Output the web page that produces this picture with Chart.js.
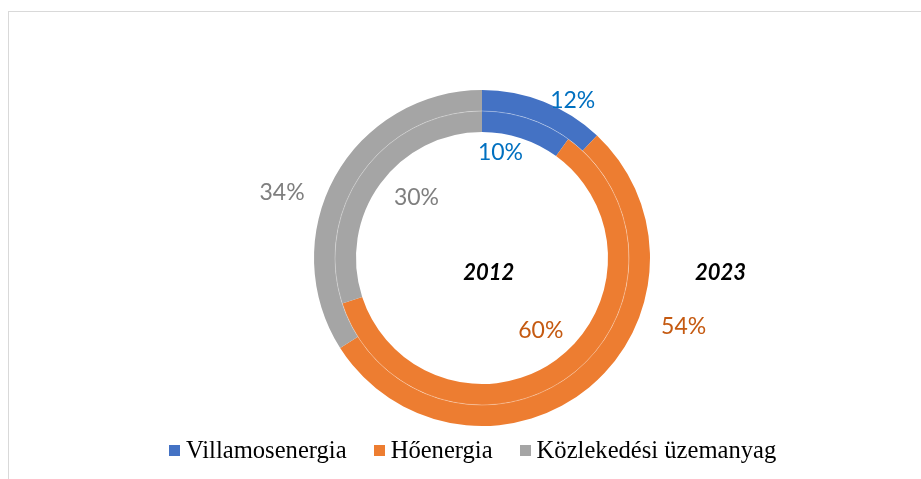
<!DOCTYPE html>
<html>
<head>
<meta charset="utf-8">
<script src="https://cdn.jsdelivr.net/npm/chart.js@4.4.1/dist/chart.umd.min.js"></script>
<style>
  html, body { margin: 0; padding: 0; background: #fff; }
  body { width: 921px; height: 479px; position: relative; overflow: hidden; }
  .frame { position: absolute; left: 8px; top: 11px; width: 920px; height: 480px;
           border-top: 1px solid #d9d9d9; border-left: 1px solid #d9d9d9; }
  .chart-container { position: absolute; left: 0; top: 0; width: 921px; height: 479px; }
  .legend { position: absolute; left: 169px; top: 436px; display: flex; align-items: center;
            font-family: "Liberation Serif", "Times New Roman", serif; font-size: 24.6px; color: #000; }
  .legend span.item { display: flex; align-items: center; margin-right: 27px; }
  .legend span.box { display: inline-block; width: 11px; height: 11px; margin-right: 6px; }
</style>
</head>
<body>
<div class="frame"></div>
<div class="chart-container"></div>
<div class="legend"></div>
<script>
const categories = ['Villamosenergia', 'Hőenergia', 'Közlekedési üzemanyag'];
const years = ['2023', '2012'];
const values2023 = [12, 54, 34];
const values2012 = [10, 60, 30];

const colors = ['#4472c4', '#ed7d31', '#a5a5a5'];
const labelColors = ['#0070c0', '#c55a11', '#7f7f7f'];

// label offsets in units of the outer radius, per ring and slice
const labelSpots = [
    [[0.54, -0.94], [1.20, 0.41], [-1.19, -0.39]],
    [[0.11, -0.63], [0.35, 0.43], [-0.39, -0.36]]
];
const yearSpots = [[1.42, 0.09], [0.04, 0.09]];

const ringLabels = {
    id: 'ringLabels',
    afterDatasetsDraw(chart) {
        const c = chart.ctx;
        const outer = chart.getDatasetMeta(0).data[0];
        const cx = outer.x, cy = outer.y, R = outer.outerRadius;

        // faint line between the two rings
        c.save();
        c.beginPath();
        c.arc(cx, cy, outer.innerRadius, 0, Math.PI * 2);
        c.strokeStyle = 'rgba(255,255,255,0.45)';
        c.lineWidth = 0.7;
        c.stroke();

        c.textAlign = 'center';
        c.textBaseline = 'middle';
        chart.data.datasets.forEach((ds, i) => {
            c.font = '23px Lato';
            ds.data.forEach((v, j) => {
                c.fillStyle = labelColors[j];
                c.fillText(v + '%', cx + labelSpots[i][j][0] * R, cy + labelSpots[i][j][1] * R);
            });
            c.font = 'italic bold 22px Lato';
            c.fillStyle = '#000';
            c.fillText(ds.label, cx + yearSpots[i][0] * R, cy + yearSpots[i][1] * R);
        });
        c.restore();
    }
};

const ctx = document.createElement('canvas');
document.querySelector('.chart-container').appendChild(ctx);

new Chart(ctx, {
    type: 'doughnut',
    data: {
        labels: categories,
        datasets: [
            { label: years[0], data: values2023, backgroundColor: colors, borderWidth: 0 },
            { label: years[1], data: values2012, backgroundColor: colors, borderWidth: 0 }
        ]
    },
    options: {
        responsive: true,
        maintainAspectRatio: false,
        animation: false,
        cutout: '75%',
        layout: { padding: { top: 90, bottom: 53, left: 314, right: 271 } },
        plugins: {
            legend: { display: false },
            tooltip: { enabled: false }
        }
    },
    plugins: [ringLabels]
});

const legend = document.querySelector('.legend');
categories.forEach((name, i) => {
    const item = document.createElement('span');
    item.className = 'item';
    item.innerHTML = '<span class="box" style="background:' + colors[i] + '"></span>' + name;
    legend.appendChild(item);
});
</script>
</body>
</html>
